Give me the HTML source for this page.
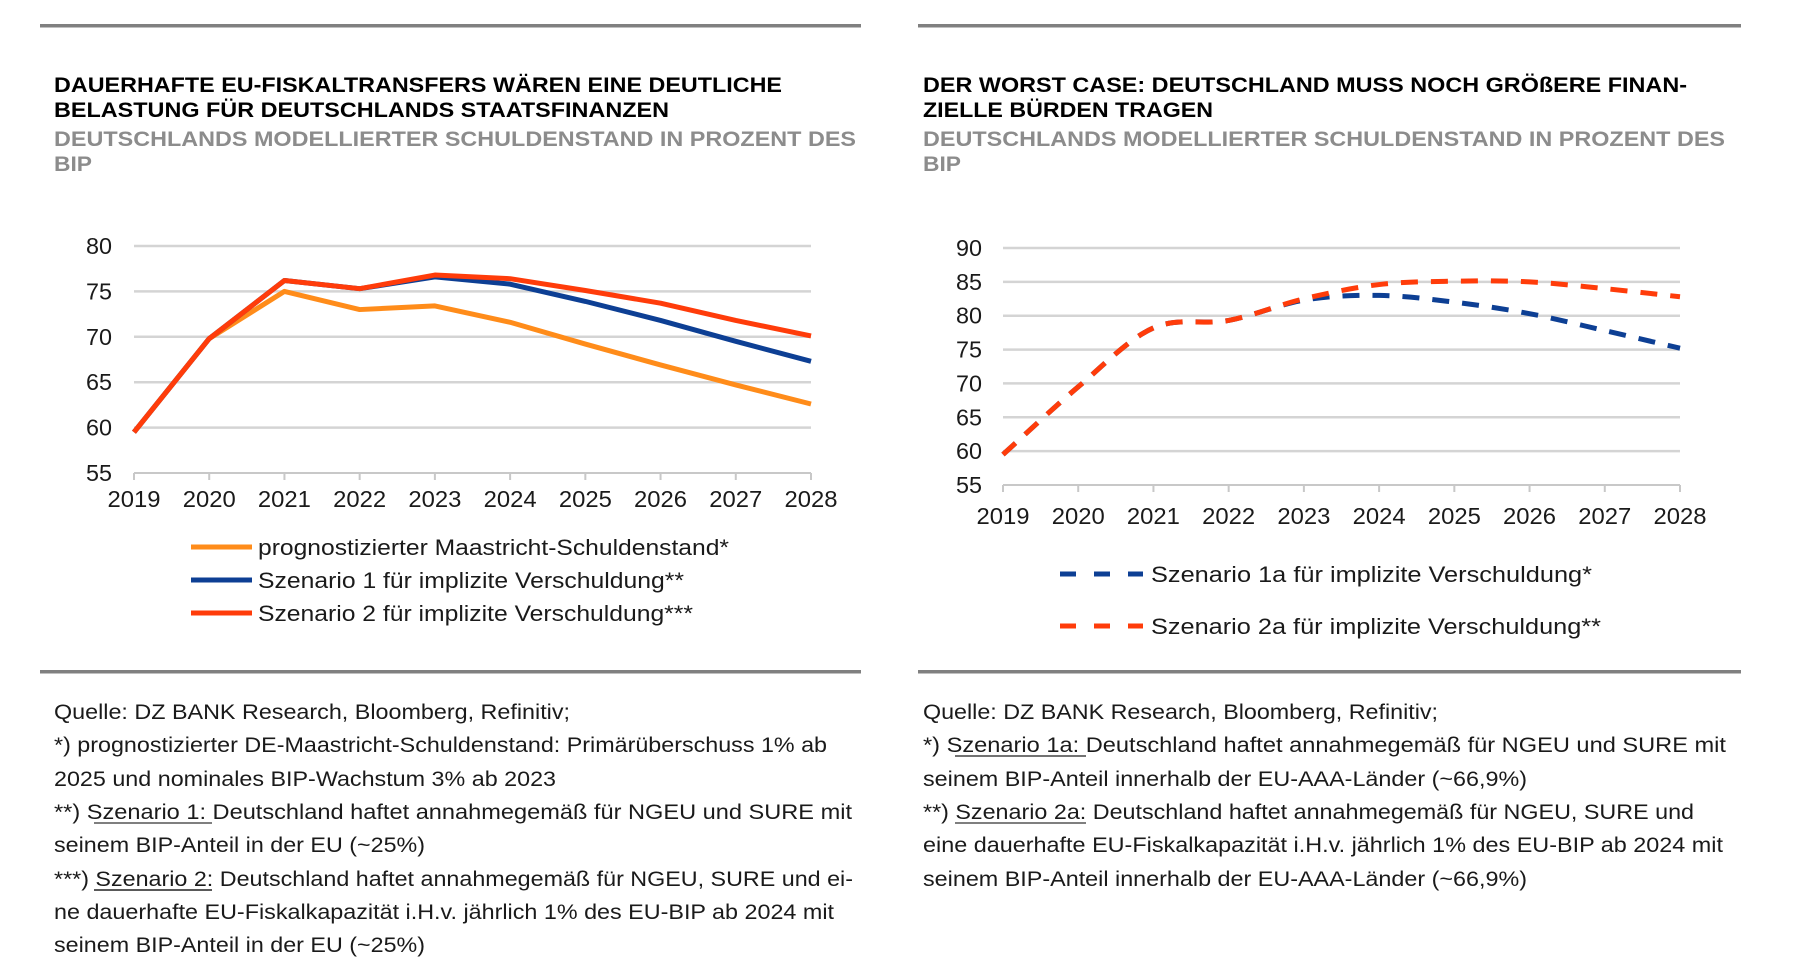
<!DOCTYPE html>
<html><head><meta charset="utf-8"><style>
html,body{margin:0;padding:0;background:#fff;}
svg{display:block;font-family:"Liberation Sans",Arial,sans-serif;}
.t{font-weight:bold;font-size:21px;fill:#000;}
.s{font-weight:bold;font-size:21px;fill:#8c8c8c;}
.tk{font-size:23px;fill:#1a1a1a;}
.lg{font-size:22px;fill:#1a1a1a;}
.fn{font-size:21px;fill:#1a1a1a;}
</style></head><body>
<svg id="root" width="1796" height="970" viewBox="0 0 1796 970">
<rect x="40" y="24" width="821" height="3.5" fill="#808080"/>
<rect x="918" y="24" width="823" height="3.5" fill="#808080"/>
<rect x="40" y="670" width="821" height="3.5" fill="#808080"/>
<rect x="918" y="670" width="823" height="3.5" fill="#808080"/>

<g>
<text class="t" x="54" y="92" textLength="728" lengthAdjust="spacingAndGlyphs">DAUERHAFTE EU-FISKALTRANSFERS WÄREN EINE DEUTLICHE</text>
<text class="t" x="54" y="117" textLength="615" lengthAdjust="spacingAndGlyphs">BELASTUNG FÜR DEUTSCHLANDS STAATSFINANZEN</text>
<text class="s" x="54" y="146" textLength="802" lengthAdjust="spacingAndGlyphs">DEUTSCHLANDS MODELLIERTER SCHULDENSTAND IN PROZENT DES</text>
<text class="s" x="54" y="171" textLength="38" lengthAdjust="spacingAndGlyphs">BIP</text>
</g>
<g>
<text class="t" x="923" y="92" textLength="764" lengthAdjust="spacingAndGlyphs">DER WORST CASE: DEUTSCHLAND MUSS NOCH GRÖßERE FINAN-</text>
<text class="t" x="923" y="117" textLength="290" lengthAdjust="spacingAndGlyphs">ZIELLE BÜRDEN TRAGEN</text>
<text class="s" x="923" y="146" textLength="802" lengthAdjust="spacingAndGlyphs">DEUTSCHLANDS MODELLIERTER SCHULDENSTAND IN PROZENT DES</text>
<text class="s" x="923" y="171" textLength="38" lengthAdjust="spacingAndGlyphs">BIP</text>
</g>

<g id="left-chart"></g>
<g id="right-chart"></g>

<g>
<g>
<line x1="191" y1="547" x2="252" y2="547" stroke="#ff8c1a" stroke-width="5"/>
<text class="lg" x="258" y="555" textLength="471" lengthAdjust="spacingAndGlyphs">prognostizierter Maastricht-Schuldenstand*</text></g>
<g>
<line x1="191" y1="580" x2="252" y2="580" stroke="#0d3f94" stroke-width="5"/>
<text class="lg" x="258" y="588" textLength="426" lengthAdjust="spacingAndGlyphs">Szenario 1 für implizite Verschuldung**</text></g>
<g>
<line x1="191" y1="613" x2="252" y2="613" stroke="#ff3c0a" stroke-width="5"/>
<text class="lg" x="258" y="621" textLength="435" lengthAdjust="spacingAndGlyphs">Szenario 2 für implizite Verschuldung***</text></g>
</g>
<g>
<g>
<line x1="1060" y1="574" x2="1143" y2="574" stroke="#0d3f94" stroke-width="5" stroke-dasharray="16,18"/>
<text class="lg" x="1151" y="582" textLength="441" lengthAdjust="spacingAndGlyphs">Szenario 1a für implizite Verschuldung*</text></g>
<g>
<line x1="1060" y1="626" x2="1143" y2="626" stroke="#ff3c0a" stroke-width="5" stroke-dasharray="16,18"/>
<text class="lg" x="1151" y="634" textLength="450" lengthAdjust="spacingAndGlyphs">Szenario 2a für implizite Verschuldung**</text></g>
</g>

<g>
<text class="fn" x="54" y="719" textLength="516" lengthAdjust="spacingAndGlyphs">Quelle: DZ BANK Research, Bloomberg, Refinitiv;</text>
<text class="fn" x="54" y="752" textLength="773" lengthAdjust="spacingAndGlyphs">*) prognostizierter DE-Maastricht-Schuldenstand: Primärüberschuss 1% ab</text>
<text class="fn" x="54" y="786" textLength="502" lengthAdjust="spacingAndGlyphs">2025 und nominales BIP-Wachstum 3% ab 2023</text>
<text class="fn" x="54" y="819" textLength="798" lengthAdjust="spacingAndGlyphs">**)  Szenario 1: Deutschland haftet annahmegemäß für NGEU und SURE mit</text>
<text class="fn" x="54" y="852" textLength="371" lengthAdjust="spacingAndGlyphs">seinem BIP-Anteil in der EU (~25%)</text>
<text class="fn" x="54" y="886" textLength="799" lengthAdjust="spacingAndGlyphs">***) Szenario 2: Deutschland haftet annahmegemäß für NGEU, SURE und ei-</text>
<text class="fn" x="54" y="919" textLength="780" lengthAdjust="spacingAndGlyphs">ne dauerhafte EU-Fiskalkapazität i.H.v. jährlich 1% des EU-BIP ab 2024 mit</text>
<text class="fn" x="54" y="952" textLength="371" lengthAdjust="spacingAndGlyphs">seinem BIP-Anteil in der EU (~25%)</text>
<line x1="94" y1="823" x2="212" y2="823" stroke="#555" stroke-width="1.5"/>
<line x1="94" y1="890" x2="212" y2="890" stroke="#222" stroke-width="1.5"/>
</g>
<g>
<text class="fn" x="923" y="719" textLength="515" lengthAdjust="spacingAndGlyphs">Quelle: DZ BANK Research, Bloomberg, Refinitiv;</text>
<text class="fn" x="923" y="752" textLength="803" lengthAdjust="spacingAndGlyphs">*)  Szenario 1a: Deutschland haftet annahmegemäß für NGEU und SURE mit</text>
<text class="fn" x="923" y="786" textLength="604" lengthAdjust="spacingAndGlyphs">seinem BIP-Anteil innerhalb der EU-AAA-Länder (~66,9%)</text>
<text class="fn" x="923" y="819" textLength="771" lengthAdjust="spacingAndGlyphs">**) Szenario 2a: Deutschland haftet annahmegemäß für NGEU, SURE und</text>
<text class="fn" x="923" y="852" textLength="800" lengthAdjust="spacingAndGlyphs">eine dauerhafte EU-Fiskalkapazität i.H.v. jährlich 1% des EU-BIP ab 2024 mit</text>
<text class="fn" x="923" y="886" textLength="604" lengthAdjust="spacingAndGlyphs">seinem BIP-Anteil innerhalb der EU-AAA-Länder (~66,9%)</text>
<line x1="955" y1="756" x2="1086" y2="756" stroke="#444" stroke-width="1.5"/>
<line x1="955" y1="823" x2="1086" y2="823" stroke="#555" stroke-width="1.5"/>
</g>
</svg>
<script>
const years = [2019,2020,2021,2022,2023,2024,2025,2026,2027,2028];
const leftTicks = [55,60,65,70,75,80];
const rightTicks = [55,60,65,70,75,80,85,90];
const maastricht = [59.5,69.8,75.0,73.0,73.4,71.6,69.2,66.9,64.7,62.6];
const szenario1 = [59.5,69.8,76.2,75.3,76.6,75.8,73.9,71.8,69.5,67.3];
const szenario2 = [59.5,69.8,76.2,75.3,76.8,76.4,75.1,73.7,71.8,70.1];
const szenario1a = [59.5,69.5,78.2,79.3,82.3,83.0,82.0,80.3,77.8,75.2];
const szenario2a = [59.5,69.5,78.2,79.3,82.5,84.6,85.1,85.0,84.0,82.8];

const NS = 'http://www.w3.org/2000/svg';
function mk(tag, attrs, parent){const e=document.createElementNS(NS,tag);for(const k in attrs)e.setAttribute(k,attrs[k]);parent.appendChild(e);return e;}

function drawChart(g, cfg){
  const xs = i => cfg.x0 + (cfg.x1-cfg.x0)*i/(years.length-1);
  const ys = v => cfg.y0 - (v-cfg.vmin)/(cfg.vmax-cfg.vmin)*(cfg.y0-cfg.y1);
  cfg.ticks.forEach(t=>{
    const y=ys(t);
    if(t!==cfg.vmin){
      const l=mk('line',{x1:cfg.x0,x2:cfg.x1,y1:y,y2:y,stroke:'#d4d4d4','stroke-width':2.5},g);
      
      
    }
    const tx=mk('text',{x:cfg.lx,y:y+8,'text-anchor':'end','class':'tk',textLength:26,lengthAdjust:'spacingAndGlyphs'},g);
    tx.textContent=t;
    
    
  });
  const ax=mk('line',{x1:cfg.x0,x2:cfg.x1,y1:cfg.y0,y2:cfg.y0,stroke:'#c8c8c8','stroke-width':2},g);
  
  
  years.forEach((yr,i)=>{
    const x=xs(i);
    const tk=mk('line',{x1:x,x2:x,y1:cfg.y0,y2:cfg.y0+7,stroke:'#c8c8c8','stroke-width':2},g);
    
    
    const tx=mk('text',{x:x,y:cfg.xly,'text-anchor':'middle','class':'tk',textLength:53,lengthAdjust:'spacingAndGlyphs'},g);
    tx.textContent=yr;
    
    
  });
  cfg.series.forEach(s=>{
    const pts=s.data.map((v,i)=>[xs(i),ys(v)]);
    let d='M'+pts[0][0]+','+pts[0][1];
    if(s.smooth){
      for(let i=0;i<pts.length-1;i++){
        const p0=pts[Math.max(i-1,0)],p1=pts[i],p2=pts[i+1],p3=pts[Math.min(i+2,pts.length-1)];
        const c1=[p1[0]+(p2[0]-p0[0])/6,p1[1]+(p2[1]-p0[1])/6];
        const c2=[p2[0]-(p3[0]-p1[0])/6,p2[1]-(p3[1]-p1[1])/6];
        d+=' C'+c1+' '+c2+' '+p2;
      }
    } else { pts.slice(1).forEach(p=>d+=' L'+p[0]+','+p[1]); }
    const a={d:d,fill:'none',stroke:s.color,'stroke-width':5,'stroke-linejoin':'round'};
    if(s.dash)a['stroke-dasharray']=s.dash;
    const p=mk('path',a,g);
    
    
  });
}
drawChart(document.getElementById('left-chart'),{x0:134,x1:811,y0:473,y1:246,vmin:55,vmax:80,ticks:leftTicks,lx:112,xly:507,
  series:[{name:'line-maastricht',data:maastricht,color:'#ff8c1a'},{name:'line-szenario-1',data:szenario1,color:'#0d3f94'},{name:'line-szenario-2',data:szenario2,color:'#ff3c0a'}]});
drawChart(document.getElementById('right-chart'),{x0:1003,x1:1680,y0:485,y1:248,vmin:55,vmax:90,ticks:rightTicks,lx:982,xly:524,
  series:[{name:'line-szenario-1a',data:szenario1a,color:'#0d3f94',dash:'17,13',smooth:true},{name:'line-szenario-2a',data:szenario2a,color:'#ff3c0a',dash:'17,13',smooth:true}]});
</script>
</body></html>
